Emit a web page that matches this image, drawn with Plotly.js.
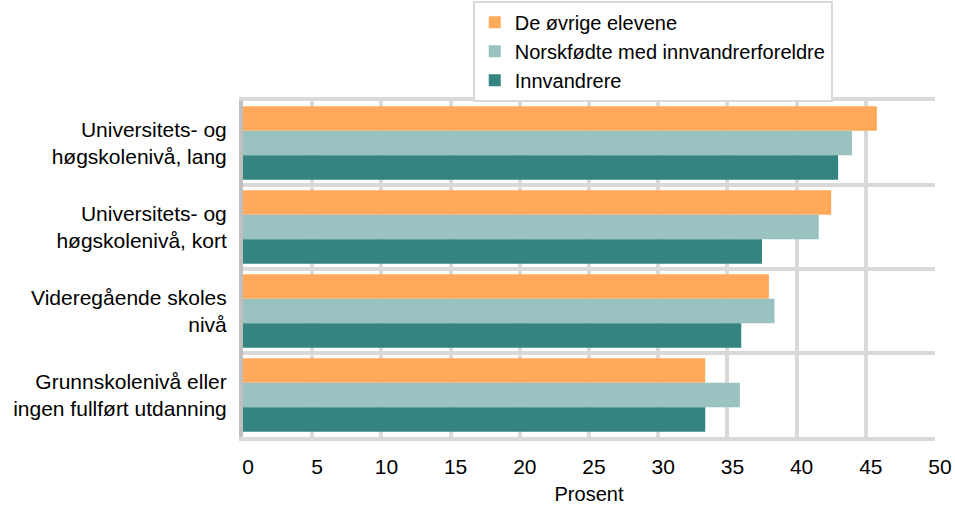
<!DOCTYPE html>
<html>
<head>
<meta charset="utf-8">
<script src="https://cdn.plot.ly/plotly-3.0.1.min.js"></script>
<style>html,body{margin:0;padding:0;background:#fff;}#chart{width:955px;height:505px;}</style>
</head>
<body>
<div id="chart"></div>
<script>
const categories = [
  'Universitets- og<br>høgskolenivå, lang',
  'Universitets- og<br>høgskolenivå, kort',
  'Videregående skoles<br>nivå',
  'Grunnskolenivå eller<br>ingen fullført utdanning'
];
const seriesNames = ['De øvrige elevene', 'Norskfødte med innvandrerforeldre', 'Innvandrere'];
const ovrige = [45.8, 42.5, 38.0, 33.4];
const norskfodte = [44.0, 41.6, 38.4, 35.9];
const innvandrere = [43.0, 37.5, 36.0, 33.4];
const xTicks = [0, 5, 10, 15, 20, 25, 30, 35, 40, 45, 50];
const colors = ['#FFAA5A', '#99C2C1', '#348482'];

const values = [ovrige, norskfodte, innvandrere];
const traces = values.map((v, i) => ({
  type: 'bar',
  orientation: 'h',
  name: seriesNames[i],
  x: v,
  y: categories,
  marker: {color: colors[i], line: {width: 0}},
  hoverinfo: 'x+name'
}));

const family = '"Liberation Sans", Arial, sans-serif';
const font = {family: family, size: 21, color: '#000'};

const layout = {
  width: 955,
  height: 505,
  margin: {l: 243, r: 20, t: 101, b: 68, autoexpand: false},
  paper_bgcolor: '#fff',
  plot_bgcolor: '#fff',
  font: font,
  barmode: 'group',
  bargap: 0.125,
  bargroupgap: 0,
  showlegend: true,
  legend: {
    x: 0.332, xanchor: 'left',
    y: 1.298, yanchor: 'top',
    bgcolor: '#fff',
    bordercolor: '#d9d9d9',
    borderwidth: 2,
    font: {family: family, size: 20, color: '#000'},
    traceorder: 'normal',
    tracegroupgap: 0
  },
  xaxis: {
    range: [0, 50],
    tickvals: xTicks,
    ticktext: xTicks.map(String),
    showgrid: true,
    gridcolor: '#d9d9d9',
    gridwidth: 4,
    zeroline: false,
    showline: true,
    mirror: true,
    linecolor: '#d9d9d9',
    linewidth: 4,
    ticks: '',
    ticklabelstandoff: 8,
    ticklabelshift: 5,
    tickfont: font,
    title: {text: 'Prosent', font: {family: family, size: 20, color: '#000'}},
    fixedrange: true
  },
  yaxis: {
    type: 'category',
    autorange: 'reversed',
    tickson: 'boundaries',
    showgrid: true,
    gridcolor: '#d9d9d9',
    gridwidth: 4,
    showline: true,
    linecolor: '#bfbfbf',
    linewidth: 4,
    ticks: '',
    ticklabelstandoff: 8,
    tickfont: font,
    fixedrange: true
  }
};

Plotly.newPlot('chart', traces, layout, {displayModeBar: false, staticPlot: true});
</script>
</body>
</html>
